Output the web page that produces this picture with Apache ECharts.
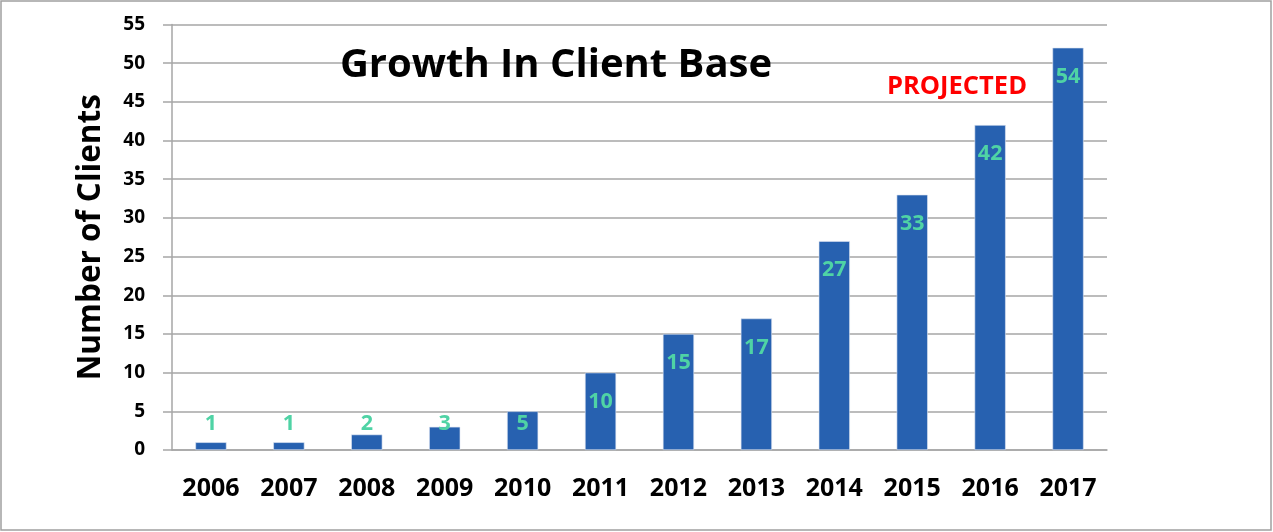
<!DOCTYPE html>
<html>
<head>
<meta charset="utf-8">
<script src="https://cdn.jsdelivr.net/npm/echarts@6/dist/echarts.min.js"></script>
<style>html,body{margin:0;padding:0;background:#fff;}#c{width:1273px;height:532px;}</style>
</head>
<body>
<div id="c"></div>
<script>
const years = ['2006','2007','2008','2009','2010','2011','2012','2013','2014','2015','2016','2017'];
const clients = [1, 1, 2, 3, 5, 10, 15, 17, 27, 33, 42, 52];
const barLabels = ['1','1','2','3','5','10','15','17','27','33','42','54'];
const yTicks = [0,5,10,15,20,25,30,35,40,45,50,55];

const FONT = '"Open Sans"';
const chart = echarts.init(document.getElementById('c'), null, {renderer: 'canvas'});

function buildOption(labelOffsets) {
  return {
    animation: false,
    backgroundColor: '#fff',
    graphic: [
      {type: 'rect', shape: {x: 1, y: 1, width: 1270, height: 529}, style: {fill: 'none', stroke: '#a0a0a0', lineWidth: 1.5}, silent: true, z: -1},
      {type: 'text', x: 556, y: 66, z: 10, style: {text: 'Growth In Client Base', font: 'bold 40px ' + FONT, fill: '#000', align: 'center', verticalAlign: 'middle'}},
      {type: 'text', x: 957, y: 87, z: 10, style: {text: 'PROJECTED', font: 'bold 25.5px ' + FONT, fill: '#ff0000', align: 'center', verticalAlign: 'middle'}}
    ],
    grid: {left: 172, right: 166, top: 24.5, bottom: 82, containLabel: false},
    xAxis: {
      type: 'category',
      data: years,
      axisLine: {show: true, lineStyle: {color: '#a6a6a6', width: 1.5}},
      axisTick: {show: false},
      axisLabel: {interval: 0, fontFamily: FONT, fontWeight: 'bold', fontSize: 25, color: '#000', margin: 26}
    },
    yAxis: {
      type: 'value',
      min: 0, max: 55, interval: 5,
      name: 'Number of Clients',
      nameLocation: 'middle',
      nameRotate: 90,
      nameGap: 65,
      nameTextStyle: {fontFamily: FONT, fontWeight: 'bold', fontSize: 31.5, color: '#000'},
      axisLine: {show: true, lineStyle: {color: '#a6a6a6', width: 1.5}},
      axisTick: {show: true, inside: false, length: 9, lineStyle: {color: '#a6a6a6', width: 1.5}},
      splitLine: {show: true, lineStyle: {color: '#a6a6a6', width: 1.5}},
      axisLabel: {fontFamily: FONT, fontWeight: 'bold', fontSize: 19, color: '#000', margin: 27,
        formatter: function (v) { return yTicks.indexOf(v) >= 0 ? String(v) : ''; }}
    },
    series: [{
      type: 'bar',
      barWidth: '40%',
      itemStyle: {color: '#2761b0', borderColor: '#dfe6f2', borderWidth: 0.6},
      data: clients.map(function (v, i) {
        return {
          value: v,
          label: {
            show: true,
            formatter: barLabels[i],
            position: ['50%', labelOffsets ? labelOffsets[i] : 29],
            align: 'center',
            verticalAlign: 'middle',
            fontFamily: FONT, fontWeight: 'bold', fontSize: 21.5, color: '#4fd3a5'
          }
        };
      })
    }]
  };
}

chart.setOption(buildOption(null));
// label centre: 29px below the bar top, but never below the level of the short-bar labels
const floorPx = chart.convertToPixel({yAxisIndex: 0}, 3.4);
const offsets = clients.map(function (v) {
  const top = chart.convertToPixel({yAxisIndex: 0}, v);
  return Math.min(29, floorPx - top);
});
chart.setOption(buildOption(offsets));
</script>
</body>
</html>
